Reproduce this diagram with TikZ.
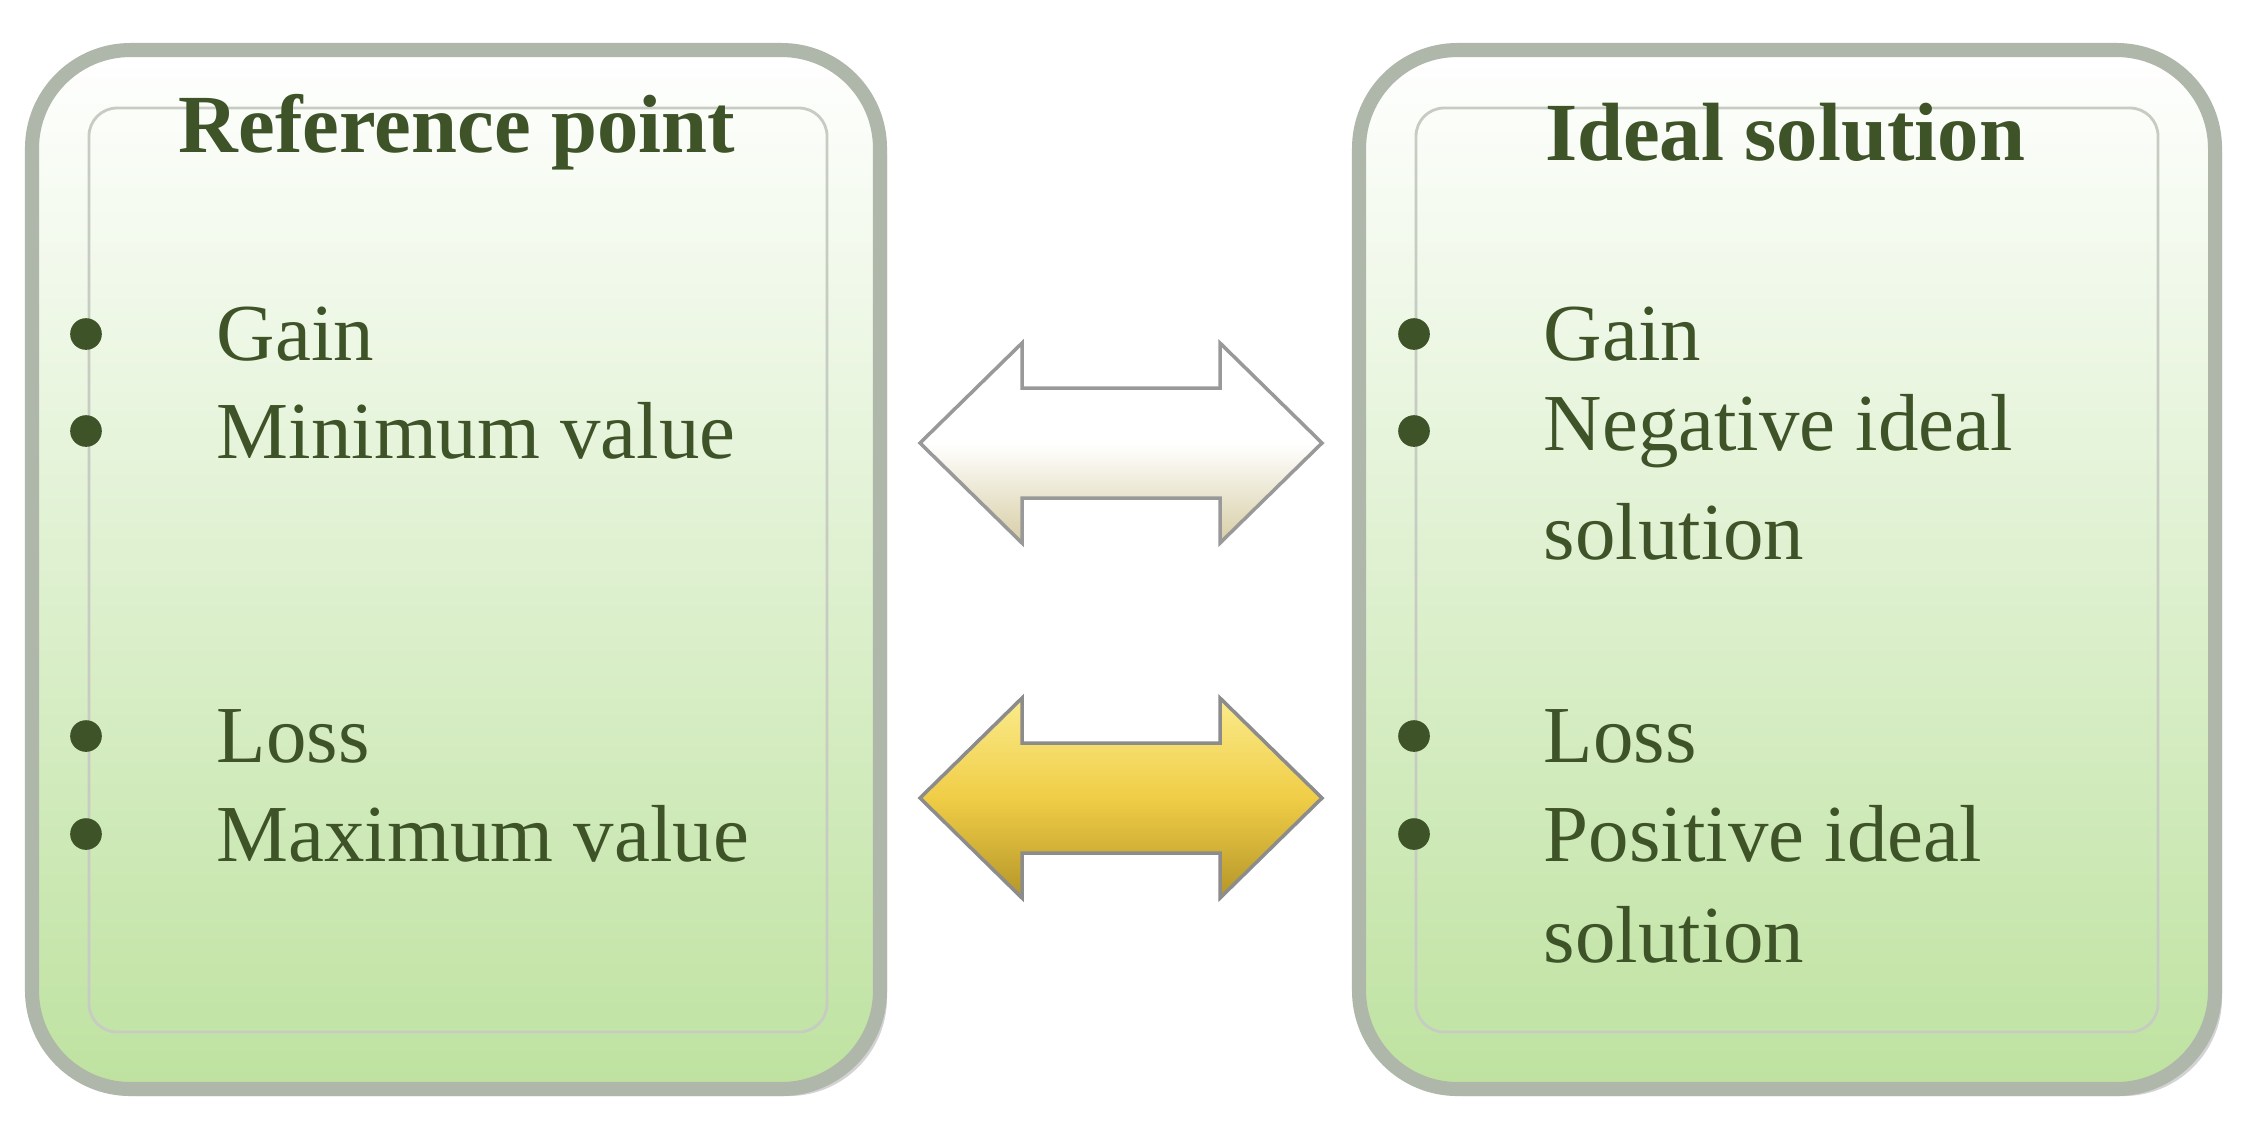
\documentclass[tikz,border=0pt]{standalone}
\usepackage{fontspec}
\setmainfont{Liberation Serif}
\usetikzlibrary{shadows}
\definecolor{txt}{RGB}{62,84,40}
\definecolor{boxbot}{RGB}{190,226,160}
\definecolor{rim}{RGB}{175,182,170}
\tikzset{
  outerbox/.style={rounded corners=28pt, draw=rim, line width=4pt, top color=white, bottom color=boxbot, drop shadow={shadow xshift=2pt,shadow yshift=-2pt,opacity=.35}},
  innerbox/.style={rounded corners=8pt, draw=rim!70, line width=0.8pt},
  lbl/.style={anchor=west, text=txt, font=\fontsize{23}{26}\selectfont, inner sep=0pt},
  ttl/.style={text=txt, font=\bfseries\fontsize{23.5}{27}\selectfont},
  bul/.style={circle, fill=txt, minimum size=9pt, inner sep=0pt},
}
\begin{document}
\begin{tikzpicture}[x=0.01cm,y=-0.01cm]
\useasboundingbox (0,0) rectangle (2243,1126);
\path[outerbox] (32,50) rectangle (880,1089);
\draw[innerbox] (89,108) rectangle (827,1032);
\path[outerbox] (1359,50) rectangle (2215,1089);
\draw[innerbox] (1416,108) rectangle (2158,1032);
\node[ttl] (t1) at (457,132) {Reference point};
\node[ttl] (t2) at (1785,132) {Ideal solution};
\foreach \y/\t [count=\i] in {334/Gain,431/Minimum value,736/Loss,834/Maximum value}{
  \node[bul] (lb\i) at (86,\y) {};
  \node[lbl] (lt\i) at (216,\y) {\t};
}
\foreach \y [count=\i] in {334,431,736,834}{ \node[bul] (rb\i) at (1414,\y) {}; }
\node[lbl] (r1) at (1543,334) {Gain};
\node[lbl] (r2) at (1543,431) {Negative ideal};
\node[lbl] (r3) at (1543,532) {solution};
\node[lbl] (r4) at (1543,736) {Loss};
\node[lbl] (r5) at (1543,834) {Positive ideal};
\node[lbl] (r6) at (1543,935) {solution};
\coordinate (a1) at (1121,443);
\coordinate (a2) at (1121,798);
\path[draw=black!40, line width=1pt, top color=white, bottom color={rgb,255:red,215;green,205;blue,165}, middle color=white]
  ([shift={(-201,0)}]a1) -- ([shift={(-99,-100)}]a1) -- ([shift={(-99,-55)}]a1) -- ([shift={(99,-55)}]a1) -- ([shift={(99,-100)}]a1) -- ([shift={(201,0)}]a1) -- ([shift={(99,100)}]a1) -- ([shift={(99,55)}]a1) -- ([shift={(-99,55)}]a1) -- ([shift={(-99,100)}]a1) -- cycle;
\path[draw=black!45, line width=1pt, top color={rgb,255:red,250;green,235;blue,140}, bottom color={rgb,255:red,180;green,150;blue,40}, middle color={rgb,255:red,240;green,205;blue,70}]
  ([shift={(-201,0)}]a2) -- ([shift={(-99,-100)}]a2) -- ([shift={(-99,-55)}]a2) -- ([shift={(99,-55)}]a2) -- ([shift={(99,-100)}]a2) -- ([shift={(201,0)}]a2) -- ([shift={(99,100)}]a2) -- ([shift={(99,55)}]a2) -- ([shift={(-99,55)}]a2) -- ([shift={(-99,100)}]a2) -- cycle;
\end{tikzpicture}
\end{document}
